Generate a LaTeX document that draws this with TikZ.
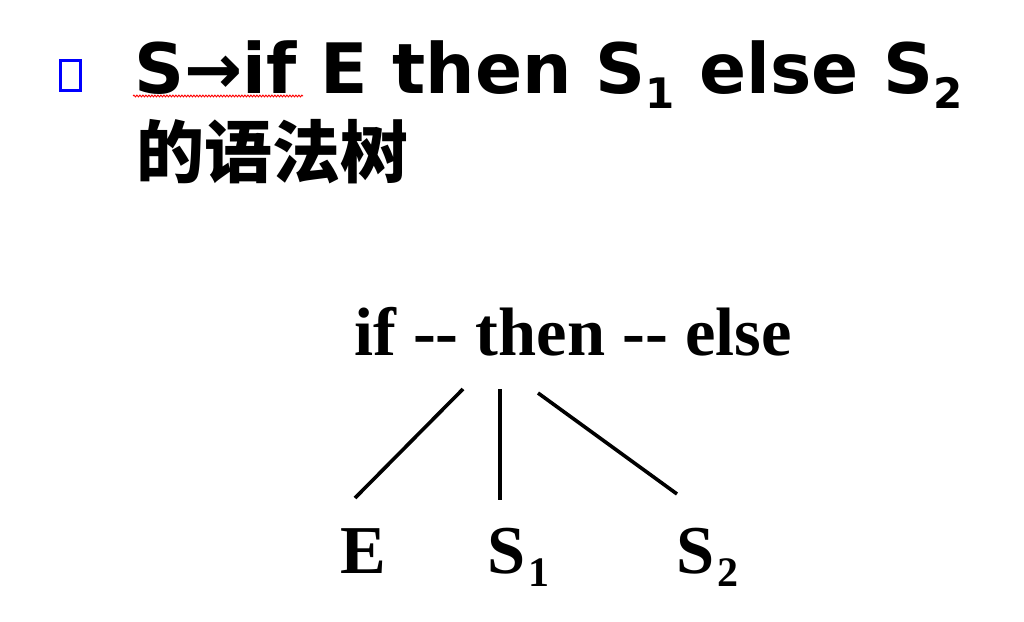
\documentclass[tikz,border=0pt]{standalone}
\usepackage{fontspec}
\newfontfamily\titlefont{DejaVu Sans}
\newfontfamily\cjkfont{Noto Sans CJK SC}
\newfontfamily\treefont{Liberation Serif}
\usetikzlibrary{decorations.pathmorphing}
\tikzset{
  title/.style={anchor=base west, inner sep=0pt, font=\titlefont\bfseries\fontsize{69.5}{80}\selectfont},
  cjktitle/.style={anchor=base west, inner sep=0pt, font=\cjkfont\bfseries\fontsize{68}{80}\selectfont},
  treelabel/.style={anchor=base west, inner sep=0pt, font=\treefont\bfseries\fontsize{68.5}{78}\selectfont},
  branch/.style={line width=3.6pt, black},
}
\newcommand{\tsub}[1]{\raisebox{-15pt}{\fontsize{42}{50}\selectfont #1}}
\newcommand{\rsub}[1]{\kern3pt\raisebox{-13pt}{\fontsize{42}{50}\selectfont #1}}
\begin{document}
\begin{tikzpicture}[x=1pt,y=-1pt]
\useasboundingbox[fill=white] (0,0) rectangle (1024,621);
% bullet
\draw[blue, line width=3pt] (60.5,60.5) rectangle (80.5,90.5);
% title
\node[title] (t1) at (134,93) {S→if E then S\tsub{1} else S\tsub{2}};
\node[cjktitle] (t2) at (136,177) {的语法树};
\draw[red, line width=0.9pt, decorate, decoration={snake, segment length=3pt, amplitude=0.9pt}] (133,96) -- (303,96);
% tree
\node[treelabel] (root) at (354,355) {if -{}- then -{}- else};
\node[treelabel] (e) at (340,573) {E};
\node[treelabel] (s1) at (487,573) {S\rsub{1}};
\node[treelabel] (s2) at (676,573) {S\rsub{2}};
\coordinate (r1) at (463,389);
\coordinate (r2) at (500,389);
\coordinate (r3) at (538,393);
\coordinate (c1) at (355,498);
\coordinate (c2) at (500,500);
\coordinate (c3) at (677,494);
\draw[branch] (r1) -- (c1);
\draw[branch] (r2) -- (c2);
\draw[branch] (r3) -- (c3);
\end{tikzpicture}
\end{document}
